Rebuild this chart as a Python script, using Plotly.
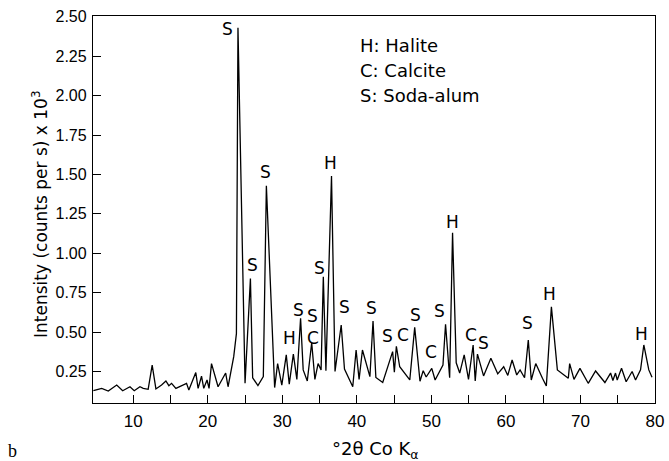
import plotly.graph_objects as go

# 2-theta (deg) and intensity (counts per s x 10^3)
two_theta = [4.65, 5.77, 6.65, 7.78, 8.58, 9.56, 10.13, 10.9, 11.34, 12.0, 12.54, 13.04,
             13.8, 14.38, 14.78, 15.14, 15.72, 17.15, 17.46, 18.39, 18.7, 19.16, 19.46,
             19.9, 20.17, 20.5, 21.38, 22.4, 22.72, 23.48, 23.84, 24.05, 25.0, 25.72,
             26.02, 26.73, 27.45, 27.86, 28.97, 29.37, 29.93, 30.53, 30.93, 31.48, 31.95,
             32.45, 32.8, 33.35, 33.94, 34.37, 34.8, 35.2, 35.5, 35.85, 36.6, 37.07, 37.9,
             38.34, 39.45, 39.9, 40.3, 40.75, 41.75, 42.17, 42.55, 43.47, 44.8, 45.03,
             45.3, 45.75, 47.1, 47.76, 48.47, 48.9, 49.3, 50.05, 50.5, 51.55, 51.9, 52.45,
             52.84, 53.33, 53.8, 54.4, 54.98, 55.6, 55.88, 56.18, 57.0, 57.98, 58.9, 59.7,
             60.25, 60.83, 61.45, 61.9, 62.5, 63.0, 63.4, 64.0, 64.9, 65.42, 66.1, 66.9,
             68.37, 68.55, 69.13, 69.93, 71.04, 72.03, 73.28, 74.04, 74.35, 74.7, 74.93,
             75.51, 76.13, 76.93, 77.39, 78.06, 78.5, 79.17, 79.6]
intensity = [0.128, 0.143, 0.126, 0.164, 0.128, 0.153, 0.128, 0.153, 0.143, 0.137, 0.29, 0.139,
             0.164, 0.19, 0.16, 0.175, 0.143, 0.175, 0.133, 0.243, 0.143, 0.22, 0.143,
             0.196, 0.143, 0.30, 0.153, 0.24, 0.153, 0.344, 0.49, 2.43, 0.175, 0.84,
             0.21, 0.16, 0.217, 1.428, 0.148, 0.30, 0.164, 0.355, 0.17, 0.36, 0.2,
             0.588, 0.26, 0.19, 0.432, 0.2, 0.3, 0.26, 0.85, 0.255, 1.49, 0.25, 0.545,
             0.265, 0.153, 0.386, 0.2, 0.386, 0.217, 0.57, 0.212, 0.18, 0.376, 0.245,
             0.41, 0.28, 0.196, 0.53, 0.188, 0.255, 0.215, 0.27, 0.196, 0.29, 0.55, 0.21,
             1.13, 0.305, 0.24, 0.355, 0.2, 0.418, 0.19, 0.36, 0.222, 0.334, 0.235, 0.28,
             0.225, 0.323, 0.228, 0.26, 0.21, 0.45, 0.196, 0.30, 0.207, 0.158, 0.66, 0.26,
             0.207, 0.3, 0.2, 0.27, 0.175, 0.253, 0.18, 0.24, 0.193, 0.24, 0.196,
             0.27, 0.185, 0.25, 0.196, 0.26, 0.418, 0.26, 0.213]

# Peak labels
label_text = ["S", "S", "S", "H", "S", "S", "H", "S", "C", "S", "S", "S", "C", "S", "C",
              "S", "H", "C", "S", "S", "H", "H"]
label_x = [22.68, 26.0, 27.76, 36.46, 34.99, 32.18, 30.97, 34.05, 34.05, 38.3, 41.95, 44.14,
           46.15, 47.85, 50.0, 51.15, 52.84, 55.3, 57.0, 62.96, 65.9, 78.2]
label_y = [2.42, 0.927, 1.517, 1.574, 0.907, 0.64, 0.463, 0.605, 0.465, 0.66, 0.65, 0.475,
           0.48, 0.61, 0.376, 0.636, 1.2, 0.48, 0.433, 0.558, 0.74, 0.49]

key_lines = ["H: Halite", "C: Calcite", "S: Soda-alum"]
key_x = 40.2
key_y = [2.32, 2.16, 2.00]

y_ticks = [0.25, 0.5, 0.75, 1.0, 1.25, 1.5, 1.75, 2.0, 2.25, 2.5]
x_ticks = [10, 15, 20, 25, 30, 35, 40, 45, 50, 55, 60, 65, 70, 75, 80]
x_ticktext = ["10", "", "20", "", "30", "", "40", "", "50", "", "60", "", "70", "", "80"]

FONT = "DejaVu Sans, Liberation Sans, Arial, sans-serif"
TICKFONT = "Liberation Sans, Arial, sans-serif"
FS = 18
FS_LABEL = 17

L, R, T, B, W, H = 93, 14, 16, 58, 669, 461
PW, PH = W - L - R, H - T - B

fig = go.Figure()
fig.add_trace(go.Scatter(x=two_theta, y=intensity, mode="lines",
                         line=dict(color="black", width=1.3), showlegend=False,
                         hoverinfo="skip"))

annotations = []
for t, x, y in zip(label_text, label_x, label_y):
    annotations.append(dict(x=x, y=y, xref="x", yref="y", text=t, showarrow=False,
                            font=dict(family=FONT, size=FS_LABEL, color="black"),
                            xanchor="center", yanchor="middle"))
for t, y in zip(key_lines, key_y):
    annotations.append(dict(x=key_x, y=y, xref="x", yref="y", text=t, showarrow=False,
                            font=dict(family=FONT, size=FS, color="black"),
                            xanchor="left", yanchor="middle"))
# panel letter
annotations.append(dict(x=(13 - L) / PW, y=(H - B - 451) / PH,
                        xref="paper", yref="paper", text="b", showarrow=False,
                        font=dict(family="Liberation Serif, Times New Roman, serif", size=18,
                                  color="black"),
                        xanchor="center", yanchor="middle"))
# y-axis title
annotations.append(dict(x=(40 - L) / PW, y=(H - B - 215) / PH, xref="paper", yref="paper",
                        text="Intensity (counts per s) x 10<sup>3</sup>", showarrow=False,
                        textangle=-90, font=dict(family=FONT, size=17, color="black"),
                        xanchor="center", yanchor="middle"))
# x-axis title
annotations.append(dict(x=(375 - L) / PW, y=(H - B - 450) / PH, xref="paper", yref="paper",
                        text="°2θ Co K<sub>α</sub>", showarrow=False,
                        font=dict(family=FONT, size=FS, color="black"),
                        xanchor="center", yanchor="middle"))

fig.update_layout(
    width=W, height=H,
    margin=dict(l=L, r=R, t=T, b=B, autoexpand=False),
    paper_bgcolor="white", plot_bgcolor="white",
    font=dict(family=FONT, size=FS, color="black"),
    annotations=annotations,
    xaxis=dict(range=[4.6, 80], tickvals=x_ticks, ticktext=x_ticktext,
               ticks="inside", ticklen=8, tickwidth=1.3, tickcolor="black",
               showline=True, linecolor="black", linewidth=1.3, mirror=True,
               showgrid=False, zeroline=False, ticklabelstandoff=2, automargin=False,
               tickfont=dict(family=TICKFONT, size=17)),
    yaxis=dict(range=[0.05, 2.505], tickvals=y_ticks, tickformat=".2f",
               ticks="inside", ticklen=8, tickwidth=1.3, tickcolor="black",
               showline=True, linecolor="black", linewidth=1.3, mirror=True,
               showgrid=False, zeroline=False, ticklabelstandoff=2, automargin=False,
               tickfont=dict(family=TICKFONT, size=16)),
)

fig.write_html("out.html", config={"displayModeBar": False},
               post_script="document.body.style.margin='0px';")
